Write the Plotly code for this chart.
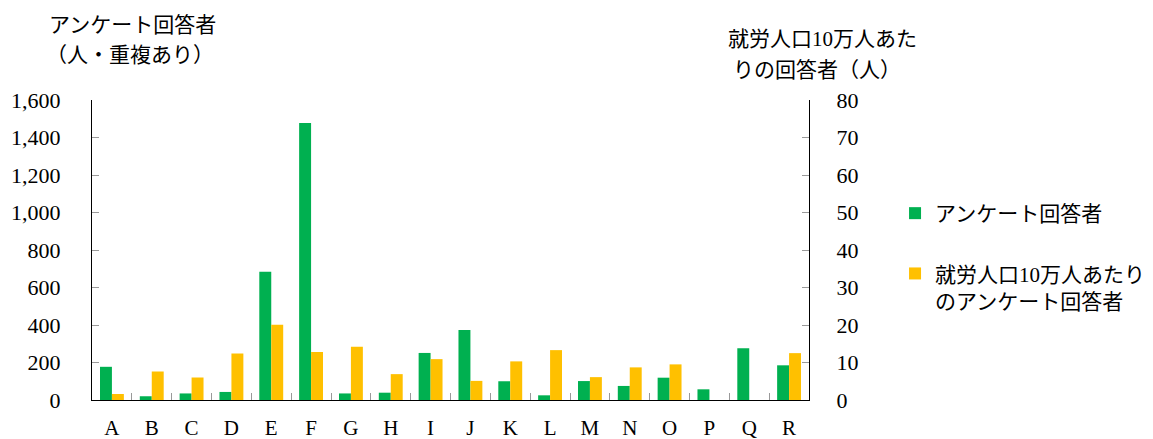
import plotly.graph_objects as go

categories = list("ABCDEFGHIJKLMNOPQR")
respondents = [177, 20, 35, 43, 684, 1477, 35, 39, 251, 373, 100, 25, 101, 75, 119, 57, 276, 185]
per_100k = [1.6, 7.6, 6.0, 12.4, 20.1, 12.8, 14.2, 6.9, 10.9, 5.1, 10.3, 13.3, 6.1, 8.7, 9.5, 0, 0, 12.5]
left_ticks = [0, 200, 400, 600, 800, 1000, 1200, 1400, 1600]
right_ticks = [0, 10, 20, 30, 40, 50, 60, 70, 80]

FONT = "Liberation Serif, Noto Sans CJK JP, serif"
GREEN = "#00B050"
YELLOW = "#FFC000"

fig = go.Figure()
fig.add_trace(go.Bar(
    x=categories, y=respondents, name="アンケート回答者",
    marker=dict(color=GREEN, line=dict(width=0)),
    offsetgroup="1", legendgroup="g1", yaxis="y",
))
fig.add_trace(go.Bar(
    x=categories, y=per_100k, name="就労人口10万人あたり<br>のアンケート回答者",
    marker=dict(color=YELLOW, line=dict(width=0)),
    offsetgroup="2", legendgroup="g2", yaxis="y2",
))


def py(v):
    # window pixel row -> paper y (plot area spans rows 100..400)
    return (400 - v) / 300


def px(v):
    return (v - 92) / 717


def title(text, x, y):
    return dict(text=text, xref="paper", yref="paper", x=px(x), y=py(y),
                xanchor="center", yanchor="middle", showarrow=False,
                font=dict(family=FONT, size=21))


fig.update_layout(
    width=1145, height=431,
    margin=dict(l=84, r=344, t=92, b=39, autoexpand=False),
    paper_bgcolor="white", plot_bgcolor="white",
    barmode="group", bargap=0.4, bargroupgap=0,
    font=dict(family=FONT, size=21, color="black"),
    showlegend=True,
    legend=dict(
        x=1.12, y=0.69, xanchor="left", yanchor="top",
        traceorder="grouped", tracegroupgap=30,
        font=dict(family=FONT, size=21, color="black"),
        valign="top", bgcolor="rgba(0,0,0,0)",
    ),
    xaxis=dict(
        type="category", showline=True, linecolor="black", linewidth=1,
        ticks="inside", tickson="boundaries", ticklen=7, tickcolor="#999999",
        tickfont=dict(family=FONT, size=21), ticklabelstandoff=9,
        showgrid=False, zeroline=False, fixedrange=True,
    ),
    yaxis=dict(
        range=[0, 1600], tickvals=left_ticks,
        ticktext=[f"{v:,}" for v in left_ticks],
        showline=True, linecolor="black", linewidth=1,
        ticks="inside", ticklen=7, tickcolor="#999999",
        tickfont=dict(family=FONT, size=22), ticklabelstandoff=26,
        showgrid=False, zeroline=False,
    ),
    yaxis2=dict(
        range=[0, 80], tickvals=right_ticks, overlaying="y", side="right",
        showline=True, linecolor="black", linewidth=1,
        ticks="inside", ticklen=7, tickcolor="#999999",
        tickfont=dict(family=FONT, size=22), ticklabelstandoff=22,
        showgrid=False, zeroline=False,
    ),
    annotations=[
        title("アンケート回答者", 132, 25),
        title("（人・重複あり）", 130, 55),
        title("就労人口10万人あた", 822, 39),
        title("りの回答者（人）", 817, 70),
    ],
)

fig.write_html("out.html")
